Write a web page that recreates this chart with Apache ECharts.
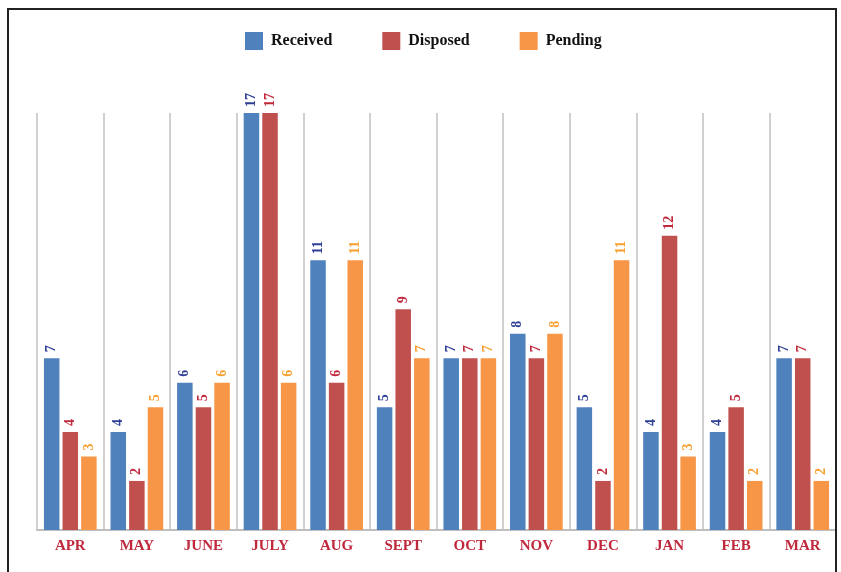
<!DOCTYPE html>
<html>
<head>
<meta charset="utf-8">
<style>
html,body{margin:0;padding:0;background:#fff;}
#chart{width:841px;height:572px;}
</style>
<script src="https://cdn.jsdelivr.net/npm/echarts@6/dist/echarts.min.js"></script>
</head>
<body>
<div id="chart"></div>
<script>
var categories = ['APR','MAY','JUNE','JULY','AUG','SEPT','OCT','NOV','DEC','JAN','FEB','MAR'];
var received = [7,4,6,17,11,5,7,8,5,4,4,7];
var disposed = [4,2,5,17,6,9,7,7,2,12,5,7];
var pending = [3,5,6,6,11,7,7,8,11,3,2,2];

var serif = '"Liberation Serif", "DejaVu Serif", serif';
var chart = echarts.init(document.getElementById('chart'));

function mkSeries(name, data, color, labelColor) {
  return {
    name: name,
    type: 'bar',
    data: data,
    barWidth: 15.5,
    barGap: '20%',
    itemStyle: {color: color},
    label: {
      show: true,
      position: 'top',
      rotate: 90,
      align: 'left',
      verticalAlign: 'middle',
      distance: 6,
      color: labelColor,
      fontFamily: serif,
      fontWeight: 'bold',
      fontSize: 14
    }
  };
}

chart.setOption({
  animation: false,
  legend: {
    top: 27,
    left: 240,
    itemWidth: 18,
    itemHeight: 18,
    itemGap: 50,
    icon: 'rect',
    textStyle: {fontFamily: serif, fontWeight: 'bold', fontSize: 16, color: '#111', padding: [0,0,0,3]},
    data: ['Received','Disposed','Pending']
  },
  grid: {left: 37, right: 5, top: 113, bottom: 42},
  xAxis: {
    type: 'category',
    data: categories,
    axisLine: {lineStyle: {color: '#BFBFBF', width: 2}},
    axisTick: {show: false},
    splitLine: {show: true, interval: 0, lineStyle: {color: '#D0D0D0', width: 2}},
    axisLabel: {interval: 0, color: '#C0283C', fontFamily: serif, fontWeight: 'bold', fontSize: 15, margin: 9}
  },
  yAxis: {
    type: 'value',
    min: 0,
    max: 17,
    show: false,
    splitLine: {show: false}
  },
  graphic: [{
    type: 'polyline',
    shape: {points: [[8, 580], [8, 9], [836, 9], [836, 580]]},
    style: {stroke: '#222', lineWidth: 2, fill: null},
    z: 100
  }],
  series: [
    mkSeries('Received', received, '#4F81BD', '#2E3F94'),
    mkSeries('Disposed', disposed, '#C0504D', '#C0283C'),
    mkSeries('Pending', pending, '#F79646', '#F7A030')
  ]
});
</script>
</body>
</html>
